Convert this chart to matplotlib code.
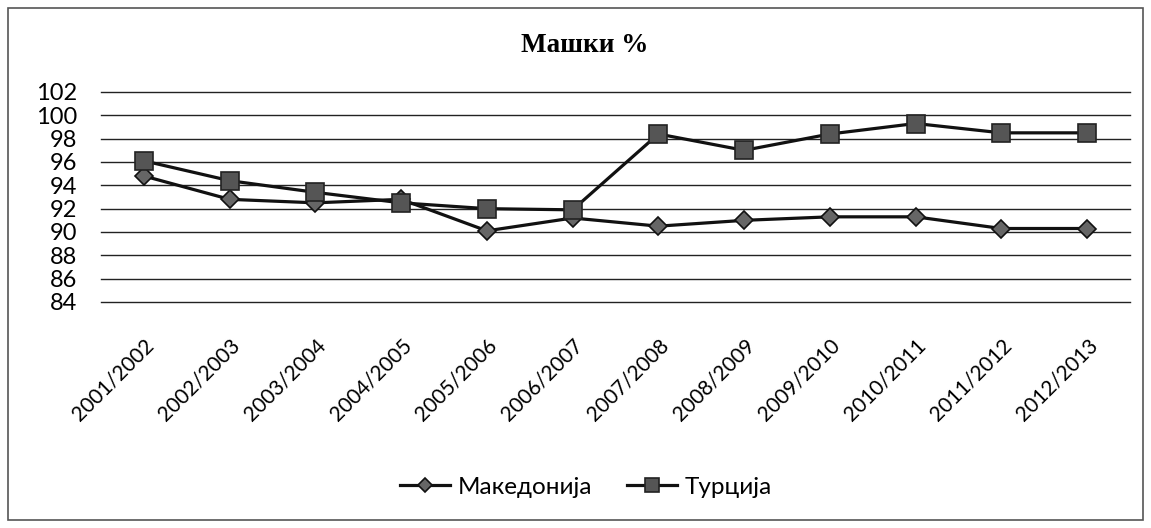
import matplotlib
matplotlib.use("Agg")
import matplotlib.pyplot as plt
from matplotlib.patches import Rectangle

categories = ["2001/2002", "2002/2003", "2003/2004", "2004/2005", "2005/2006", "2006/2007",
              "2007/2008", "2008/2009", "2009/2010", "2010/2011", "2011/2012", "2012/2013"]
makedonija = [94.8, 92.8, 92.5, 92.8, 90.1, 91.2, 90.5, 91.0, 91.3, 91.3, 90.3, 90.3]
turcija = [96.1, 94.4, 93.4, 92.5, 92.0, 91.9, 98.4, 97.0, 98.4, 99.3, 98.5, 98.5]
yticks = [84, 86, 88, 90, 92, 94, 96, 98, 100, 102]
title = "Машки %"
labels = ["Македонија", "Турција"]

W, H = 1151, 528
fig = plt.figure(figsize=(W / 100, H / 100), dpi=100)
fig.patches.append(Rectangle((8 / W, 8 / H), 1 - 16 / W, 1 - 16 / H, transform=fig.transFigure,
                             fill=False, edgecolor="#555555", linewidth=1.2))

ax = fig.add_axes([101 / W, 1 - 302 / H, (1130 - 101) / W, (302 - 92) / H])
x = list(range(len(categories)))
ax.plot(x, makedonija, color="#111111", linewidth=2.3, marker="D", markersize=9,
        markerfacecolor="#666666", markeredgecolor="#111111", markeredgewidth=1.2, label=labels[0], zorder=3)
ax.plot(x, turcija, color="#111111", linewidth=2.3, marker="s", markersize=13,
        markerfacecolor="#555555", markeredgecolor="#222222", markeredgewidth=1.2, label=labels[1], zorder=4)

ax.set_xlim(-0.5, len(categories) - 0.5)
ax.set_ylim(84, 102)
ax.set_yticks(yticks)
ax.set_yticklabels([str(v) for v in yticks], fontsize=17, family="Lato")
ax.set_xticks(x)
ax.set_xticklabels(categories, rotation=45, ha="right", rotation_mode="anchor", fontsize=15, family="Lato")
ax.tick_params(axis="y", length=0, pad=17)
ax.tick_params(axis="x", length=0, pad=24)
ax.grid(axis="y", color="#222222", linewidth=1.0)
for gl in ax.get_ygridlines():
    gl.set_clip_on(False)
ax.set_axisbelow(True)
for s in ax.spines.values():
    s.set_visible(False)

fig.text(585 / W, 1 - 46 / H, title, ha="center", va="center", fontsize=19.5, fontweight="bold",
         family="Liberation Serif")

leg = fig.legend(loc="center", bbox_to_anchor=(586 / W, 1 - 487 / H), ncol=2, frameon=False,
                 prop={"family": "Lato", "size": 17.5}, handlelength=2.05, columnspacing=1.45,
                 handletextpad=0.3, markerscale=0.8)

fig.savefig("out.png", dpi=100)
